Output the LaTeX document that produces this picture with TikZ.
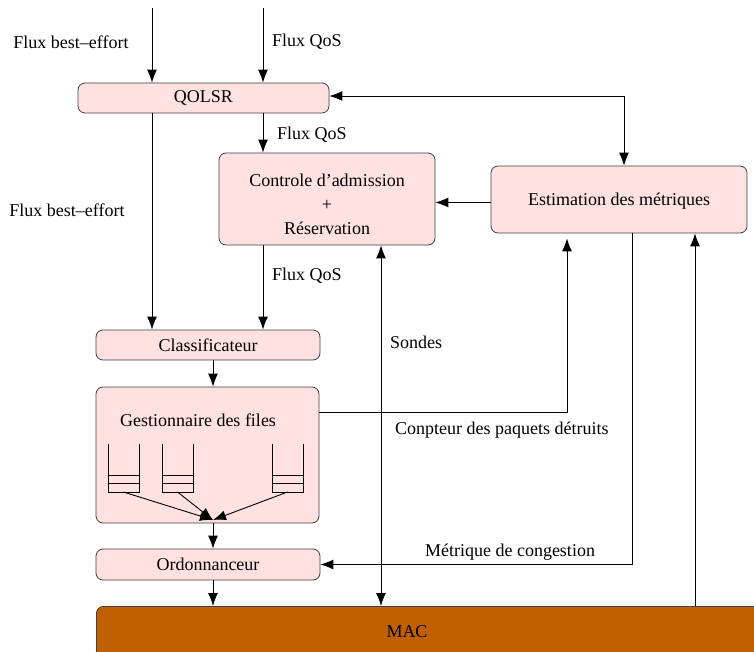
\documentclass[tikz,border=0pt]{standalone}
\usepackage{fontspec}
\setmainfont{Liberation Serif}
\usetikzlibrary{arrows.meta}
\definecolor{boxpink}{RGB}{255,225,225}
\definecolor{macbrown}{RGB}{192,96,0}
\begin{document}
\begin{tikzpicture}[
  x=1pt, y=-1pt,
  every node/.style={font=\fontsize{18}{24}\selectfont},
  blk/.style={draw=black!75, fill=boxpink, rounded corners=7pt, line width=0.8pt, inner sep=0pt},
  arr/.style={-{Latex[length=13pt,width=10pt]}, line width=0.9pt},
  arrs/.style={{Latex[length=13pt,width=10pt]}-{Latex[length=13pt,width=10pt]}, line width=0.9pt},
  lbl/.style={anchor=west, inner sep=0pt}
]
\useasboundingbox (0,0) rectangle (754,652);
% blocks
\node[blk, minimum width=251pt, minimum height=30pt] (qolsr) at (203.5,98) {QOLSR};
\node[blk, minimum width=216pt, minimum height=92pt, align=center] (ctrl) at (327,199) {\rule{0pt}{24pt}Controle d'admission\\+\\Réservation};
\node[blk, minimum width=256pt, minimum height=67pt] (estim) at (619,199.5) {\rule{0pt}{16pt}Estimation des métriques};
\node[blk, minimum width=224pt, minimum height=30pt] (classif) at (208,345) {Classificateur};
\node[blk, minimum width=223pt, minimum height=136pt] (gest) at (207.5,455) {};
\node (gestlbl) at (198,420) {Gestionnaire des files};
\node[blk, minimum width=224pt, minimum height=31pt] (ordo) at (208,564.5) {Ordonnanceur};
\node[blk, fill=macbrown, anchor=north west, minimum width=700pt, minimum height=80pt] (mac) at (96,606) {};
\node (maclbl) at (407,632) {MAC};
% columns
\coordinate (inbe) at (152,8);
\coordinate (inqos) at (263,8);
\coordinate (mid) at (213,0);
\coordinate (sond) at (381,0);
\coordinate (cpt) at (567,412);
\coordinate (met) at (632,0);
\coordinate (up) at (695,0);
\coordinate (merge) at (213,520);
% queues
\foreach \x [count=\i] in {108,162,272} {
  \draw[line width=0.8pt] (\x,444) |- (\x+31,492) -- (\x+31,444);
  \draw[line width=0.8pt] (\x,475) -- +(31,0) (\x,483) -- +(31,0);
  \coordinate (q\i) at (\x+15.5,492);
  \draw[arr] (q\i) -- (merge);
}
% connectors
\draw[arr] (inbe) -- (inbe |- qolsr.north);
\draw[arr] (inqos) -- (inqos |- qolsr.north);
\draw[arr] (qolsr.south -| inqos) -- (ctrl.north -| inqos);
\draw[arr] (qolsr.south -| inbe) -- (classif.north -| inbe);
\draw[arr] (ctrl.south -| inqos) -- (classif.north -| inqos);
\draw[arr] ([yshift=-3pt]estim.west) -- ([yshift=-3pt]ctrl.east |- estim.west);
\draw[arrs] ([yshift=2pt]qolsr.east) -| ([xshift=5pt]estim.north);
\draw[arr] (classif.south -| mid) -- (gest.north -| mid);
\draw[arr] (gest.south -| mid) -- (ordo.north -| mid);
\draw[arr] (ordo.south -| mid) -- (mac.north -| mid);
\draw[arrs] (ctrl.south -| sond) -- (mac.north -| sond);
\draw[arr] (gest.east |- cpt) -| ([yshift=-5pt]estim.south -| cpt);
\draw[arr] (estim.south -| met) |- (ordo.east);
\draw[arr] (mac.north -| up) -- (estim.south -| up);
% labels
\node (lbe1) at (71,42) {Flux best--effort};
\node[lbl] (lqos1) at (272,42) {Flux QoS};
\node[lbl] (lqos2) at (277,135) {Flux QoS};
\node (lbe2) at (67,210) {Flux best--effort};
\node[lbl] (lqos3) at (272,276) {Flux QoS};
\node[lbl] (lsond) at (390,342) {Sondes};
\node[lbl] (lcpt) at (395,430) {Conpteur des paquets détruits};
\node (lmet) at (510,552) {Métrique de congestion};
\end{tikzpicture}
\end{document}
